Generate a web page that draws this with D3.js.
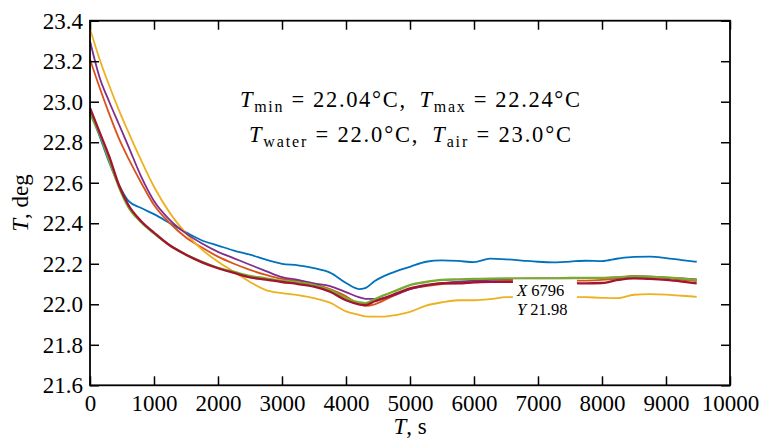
<!DOCTYPE html>
<html>
<head>
<meta charset="utf-8">
<script src="https://cdn.jsdelivr.net/npm/d3@7"></script>
<style>
  body { margin: 0; background: #fff; }
  text { font-family: "Liberation Serif", serif; fill: #000; }
</style>
</head>
<body>
<div id="chart"></div>
<script>
// time samples (s), shared by every run
var times = [0, 150, 300, 450, 600, 800, 1000, 1250, 1500, 1750, 2000, 2250, 2500, 2750, 3000,
  3250, 3500, 3750, 4000, 4200, 4300, 4450, 4600, 4800, 5000, 5250, 5500, 5750, 6000, 6250,
  6500, 6750, 7000, 7250, 7500, 7750, 8000, 8250, 8500, 8750, 9000, 9250, 9480];

// temperature of each run (deg C)
var tBlue = [22.95, 22.83, 22.70, 22.59, 22.51, 22.475, 22.445, 22.40, 22.355, 22.315,
  22.29, 22.265, 22.245, 22.22, 22.20, 22.192, 22.178, 22.156, 22.105, 22.075,
  22.08, 22.115, 22.14, 22.165, 22.185, 22.21, 22.217, 22.214, 22.208, 22.225,
  22.222, 22.216, 22.21, 22.207, 22.211, 22.215, 22.213, 22.226, 22.234, 22.235,
  22.228, 22.218, 22.21];
var tOrange = [23.21, 23.07, 22.94, 22.82, 22.72, 22.60, 22.49, 22.40, 22.33, 22.28,
  22.235, 22.20, 22.17, 22.145, 22.125, 22.115, 22.10, 22.075, 22.04, 22.0,
  21.992, 22.0, 22.02, 22.05, 22.075, 22.09, 22.10, 22.105, 22.11, 22.112,
  22.115, 22.118, 22.12, 22.12, 22.118, 22.117, 22.12, 22.128, 22.14, 22.135,
  22.13, 22.12, 22.115];
var tYellow = [23.36, 23.21, 23.08, 22.96, 22.85, 22.71, 22.58, 22.45, 22.35, 22.27,
  22.21, 22.16, 22.11, 22.07, 22.055, 22.045, 22.03, 22.008, 21.965, 21.948,
  21.94, 21.939, 21.939, 21.948, 21.963, 21.993, 22.01, 22.02, 22.02, 22.025,
  22.035, 22.036, 22.037, 22.037, 22.037, 22.035, 22.032, 22.03, 22.047, 22.05,
  22.048, 22.042, 22.037];
var tPurple = [23.30, 23.12, 23.00, 22.89, 22.78, 22.63, 22.51, 22.416, 22.35, 22.30,
  22.259, 22.227, 22.195, 22.164, 22.134, 22.12, 22.103, 22.09, 22.06, 22.035,
  22.027, 22.027, 22.032, 22.05, 22.075, 22.092, 22.105, 22.112, 22.117, 22.12,
  22.124, 22.127, 22.128, 22.128, 22.128, 22.13, 22.13, 22.133, 22.136, 22.136,
  22.132, 22.128, 22.123];
var tGreen = [22.94, 22.84, 22.71, 22.58, 22.48, 22.405, 22.35, 22.29, 22.245, 22.21,
  22.18, 22.16, 22.14, 22.128, 22.115, 22.108, 22.095, 22.07, 22.03, 22.01,
  22.005, 22.025, 22.045, 22.07, 22.095, 22.11, 22.12, 22.123, 22.125, 22.127,
  22.128, 22.128, 22.128, 22.128, 22.13, 22.13, 22.13, 22.134, 22.138, 22.136,
  22.133, 22.127, 22.12];
var tRed = [22.97, 22.85, 22.73, 22.59, 22.49, 22.41, 22.354, 22.29, 22.245, 22.207,
  22.178, 22.155, 22.133, 22.122, 22.11, 22.10, 22.087, 22.062, 22.02, 22.0,
  21.996, 22.015, 22.03, 22.055, 22.079, 22.095, 22.103, 22.103, 22.108, 22.111,
  22.111, 22.111, 22.11, 22.108, 22.105, 22.103, 22.105, 22.12, 22.128, 22.125,
  22.12, 22.112, 22.103];

var xTicks = [0, 1000, 2000, 3000, 4000, 5000, 6000, 7000, 8000, 9000, 10000];
var yTicks = [21.6, 21.8, 22.0, 22.2, 22.4, 22.6, 22.8, 23.0, 23.2, 23.4];

// annotation values and the data tip
var tMin = 22.04, tMax = 22.24, tWater = 22.0, tAir = 23.0;
var tipX = 6796, tipY = 21.98;

var runs = [
  { values: tBlue, color: "#0072BD" },
  { values: tOrange, color: "#D95319" },
  { values: tYellow, color: "#EDB120" },
  { values: tPurple, color: "#7E2F8E" },
  { values: tGreen, color: "#77AC30" },
  { values: tRed, color: "#A2142F" }
];

var margin = { top: 20.7, right: 33, bottom: 54.7, left: 90 },
    width = 763 - margin.left - margin.right,
    height = 440 - margin.top - margin.bottom;

var svg = d3.select("#chart").append("svg")
    .attr("width", 763)
    .attr("height", 440);

var g = svg.append("g")
    .attr("transform", "translate(" + margin.left + "," + margin.top + ")");

var x = d3.scaleLinear().domain([0, 10000]).range([0, width]);
var y = d3.scaleLinear().domain([21.6, 23.4]).range([height, 0]);

var line = d3.line()
    .x(function (d, i) { return x(times[i]); })
    .y(function (d) { return y(d); })
    .curve(d3.curveMonotoneX);

g.selectAll(".run")
    .data(runs)
    .enter().append("path")
    .attr("class", "run")
    .attr("fill", "none")
    .attr("stroke", function (d) { return d.color; })
    .attr("stroke-width", function (d, i) { return i >= 4 ? 2.3 : 1.8; })
    .attr("stroke-linejoin", "round")
    .attr("d", function (d) { return line(d.values); });

// axes, ticks pointing inwards on all four sides
function styleAxis(sel) {
    sel.select(".domain").remove();
    sel.selectAll(".tick line").attr("stroke", "#000").attr("stroke-width", 1.5);
    sel.selectAll(".tick text").style("font-size", "23px").attr("fill", "#000")
        .style("font-family", "'Liberation Serif', serif");
}

g.append("g")
    .attr("transform", "translate(0," + height + ")")
    .call(d3.axisBottom(x).tickValues(xTicks).tickSize(-9).tickSizeOuter(0).tickPadding(9).tickFormat(d3.format("d")))
    .call(styleAxis);
g.append("g")
    .call(d3.axisTop(x).tickValues(xTicks).tickSize(-9).tickSizeOuter(0).tickFormat(""))
    .call(styleAxis);
g.append("g")
    .call(d3.axisLeft(y).tickValues(yTicks).tickSize(-9).tickSizeOuter(0).tickPadding(7).tickFormat(d3.format(".1f")))
    .call(styleAxis);
g.append("g")
    .attr("transform", "translate(" + width + ",0)")
    .call(d3.axisRight(y).tickValues(yTicks).tickSize(-9).tickSizeOuter(0).tickFormat(""))
    .call(styleAxis);

g.append("rect")
    .attr("width", width)
    .attr("height", height)
    .attr("fill", "none")
    .attr("stroke", "#000")
    .attr("stroke-width", 1.8);

// axis titles
var xTitle = svg.append("text")
    .attr("x", margin.left + width / 2)
    .attr("y", 434)
    .attr("text-anchor", "middle")
    .style("font-size", "23px");
xTitle.append("tspan").style("font-style", "italic").text("T");
xTitle.append("tspan").text(", s");

var yTitle = svg.append("text")
    .attr("transform", "translate(28," + (margin.top + height / 2) + ") rotate(-90)")
    .attr("text-anchor", "middle")
    .style("font-size", "23px");
yTitle.append("tspan").style("font-style", "italic").text("T");
yTitle.append("tspan").text(", deg");

// annotation with subscripts
function sym(text, name, value) {
    text.append("tspan").style("font-style", "italic").text("T");
    text.append("tspan").attr("dy", 5).style("font-size", "16px").text(name);
    text.append("tspan").attr("dy", -5).text(" = " + value + "°C");
}

var fmt2 = d3.format(".2f"), fmt1 = d3.format(".1f");

var note1 = svg.append("text")
    .attr("x", margin.left + width / 2)
    .attr("y", 107)
    .attr("text-anchor", "middle")
    .attr("textLength", 340)
    .attr("lengthAdjust", "spacing")
    .style("font-size", "22.5px");
sym(note1, "min", fmt2(tMin));
note1.append("tspan").text(",\u2002");
sym(note1, "max", fmt2(tMax));

var note2 = svg.append("text")
    .attr("x", margin.left + width / 2)
    .attr("y", 142)
    .attr("text-anchor", "middle")
    .attr("textLength", 322)
    .attr("lengthAdjust", "spacing")
    .style("font-size", "22.5px");
sym(note2, "water", fmt1(tWater));
note2.append("tspan").text(",\u2002");
sym(note2, "air", fmt1(tAir));

// data tip box, both rows in one text block
var tip = g.append("g")
    .attr("transform", "translate(" + (x(tipX) - 12) + "," + (y(tipY) - 29) + ")");
tip.append("rect")
    .attr("width", 64)
    .attr("height", 38)
    .attr("fill", "#fff");
var tipText = tip.append("text").attr("x", 4).attr("y", 17).style("font-size", "16.5px");
tipText.append("tspan").style("font-style", "italic").text("X");
tipText.append("tspan").text(" " + tipX);
tipText.append("tspan").attr("x", 4).attr("dy", 19).style("font-style", "italic").text("Y");
tipText.append("tspan").text(" " + tipY);
</script>
</body>
</html>
